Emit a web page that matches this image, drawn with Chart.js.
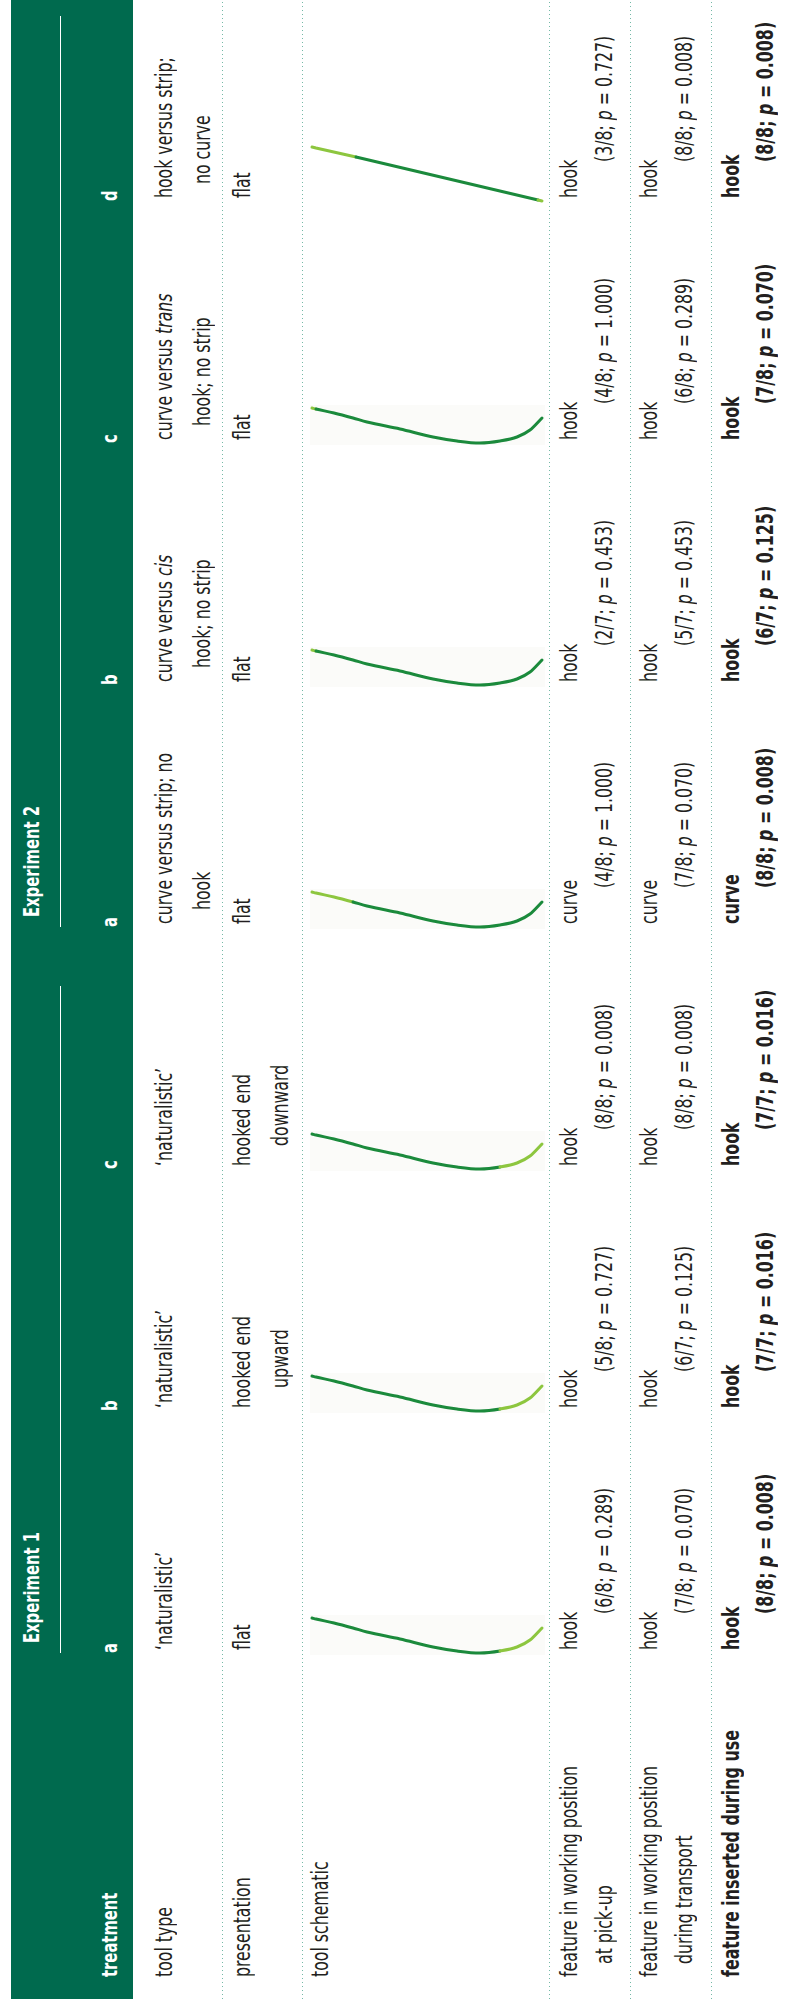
<!DOCTYPE html>
<html>
<head>
<meta charset="utf-8">
<script src="https://cdn.jsdelivr.net/npm/chart.js@4.4.1/dist/chart.umd.min.js"></script>
<style>
  html, body { margin: 0; padding: 0; background: #fff; }
  body { width: 785px; height: 2009px; position: relative; overflow: hidden; }
  /* the table is laid out flat (2009 wide) and turned a quarter left */
  #table {
    position: absolute; left: 0; top: 0;
    width: 2009px; height: 785px;
    transform-origin: 0 0;
    transform: translate(0, 2009px) rotate(-90deg);
    color: #231f20;
  }
  .header { position: absolute; left: 10px; top: 11px; width: 1999px; height: 122px; background: #006a4e; }
  .expline { position: absolute; top: 60px; height: 1px; background: #fff; }
  .rule {
    position: absolute; left: 10px; width: 1999px; height: 1px;
    background-image: linear-gradient(to right, #74b9a7 1.4px, transparent 1.4px);
    background-size: 4px 1px;
  }
  .t { position: absolute; white-space: nowrap; transform-origin: 0 0; }
  canvas.tool { position: absolute; }
</style>
</head>
<body>
<div id="table"></div>
<script>
// ---- table content ----
const experiments = ["Experiment 1", "Experiment 2"]
const experimentCols = [[0, 2], [3, 6]]
const treatments = ["a", "b", "c", "a", "b", "c", "d"]

const rowLabels = [
  ["tool type"],
  ["presentation"],
  ["tool schematic"],
  ["feature in working position", "at pick-up"],
  ["feature in working position", "during transport"],
  ["feature inserted during use"],
]

const toolType = [
  ["\u2018naturalistic\u2019"],
  ["\u2018naturalistic\u2019"],
  ["\u2018naturalistic\u2019"],
  ["curve versus strip; no", "hook"],
  ["curve versus <i>cis</i>", "hook; no strip"],
  ["curve versus <i>trans</i>", "hook; no strip"],
  ["hook versus strip;", "no curve"],
]
const presentation = [["flat"], ["hooked end", "upward"], ["hooked end", "downward"], ["flat"], ["flat"], ["flat"], ["flat"]]

const pickupFeature = ["hook", "hook", "hook", "curve", "hook", "hook", "hook"]
const pickupCount = ["6/8", "5/8", "8/8", "4/8", "2/7", "4/8", "3/8"]
const pickupP = ["0.289", "0.727", "0.008", "1.000", "0.453", "1.000", "0.727"]

const transportFeature = ["hook", "hook", "hook", "curve", "hook", "hook", "hook"]
const transportCount = ["7/8", "6/7", "8/8", "7/8", "5/7", "6/8", "8/8"]
const transportP = ["0.070", "0.125", "0.008", "0.070", "0.453", "0.289", "0.008"]

const useFeature = ["hook", "hook", "hook", "curve", "hook", "hook", "hook"]
const useCount = ["8/8", "7/7", "7/7", "8/8", "6/7", "7/8", "8/8"]
const useP = ["0.008", "0.016", "0.016", "0.008", "0.125", "0.070", "0.008"]

// tool schematics: depth down the cell vs sideways bend (px)
const hookDepth = [0, 4, 22, 41, 55, 88, 121, 145, 168, 188, 205, 218, 230]
const hookBend = [35, 34, 30, 25, 21, 14, 6, 2, 0, 2, 6, 13, 25]
const straightDepth = [0, 4, 44, 226, 230]
const straightBend = [54, 53, 44, 1, 0]
const toolShape = ["hook", "hook", "hook", "hook", "hook", "hook", "straight"]
// stretches of each tool drawn in light green
const tipRanges = [[[188, 230]], [[188, 230]], [[188, 230]], [[0, 41]], [[0, 4]], [[0, 4]], [[0, 44], [226, 230]]]

// ---- layout ----
const FONT = '"Liberation Sans Narrow", "Arial Narrow", "DejaVu Sans Condensed", "Liberation Sans", sans-serif'
const DARK = "#1b8a3c"
const LIGHT = "#8dc63f"
const COL0 = 356
const COLW = 242
const LABEL_U = 32
const colStart = (i) => COL0 + COLW * i

const table = document.getElementById("table")
const mctx = document.createElement("canvas").getContext("2d")

function fitScale(weight, size, sample, target) {
  mctx.font = `${weight} ${size}px ${FONT}`
  return target / mctx.measureText(sample).width
}

function baseOffset(weight, size) {
  mctx.font = `${weight} ${size}px ${FONT}`
  const m = mctx.measureText("Hg")
  const asc = m.fontBoundingBoxAscent
  const desc = m.fontBoundingBoxDescent
  return (size - asc - desc) / 2 + asc
}

const styles = {
  body: { weight: 400, size: 23, color: "#231f20" },
  bold: { weight: 700, size: 23, color: "#231f20" },
  head: { weight: 700, size: 22, color: "#ffffff" },
}
styles.body.k = fitScale(400, 23, "feature in working position", 211)
styles.bold.k = fitScale(700, 23, "feature inserted during use", 247)
styles.head.k = fitScale(700, 22, "Experiment 1", 111)
Object.values(styles).forEach((s) => (s.off = baseOffset(s.weight, s.size)))

function addText(u, baseline, html, style) {
  const el = document.createElement("div")
  el.className = "t"
  el.innerHTML = html
  el.style.font = `${style.weight} ${style.size}px ${FONT}`
  el.style.lineHeight = style.size + "px"
  el.style.color = style.color
  el.style.left = u + "px"
  el.style.top = baseline - style.off + "px"
  el.style.transform = `scaleX(${style.k})`
  table.appendChild(el)
}

function addBox(cls, css) {
  const el = document.createElement("div")
  el.className = cls
  Object.assign(el.style, css)
  table.appendChild(el)
}

// header band
addBox("header", {})
experiments.forEach((name, e) => {
  const [from, to] = experimentCols[e]
  addText(colStart(from) + 10, 39, name, styles.head)
  const end = e === 0 ? colStart(to + 1) - 59 : 1993
  addBox("expline", { left: colStart(from) + "px", width: end - colStart(from) + "px" })
})
addText(LABEL_U, 117, "treatment", styles.head)
treatments.forEach((t, i) => addText(colStart(i), 117, t, styles.head))

// dotted row rules
;[222, 302, 549, 630, 711].forEach((v) => addBox("rule", { top: v + "px" }))

// row labels
const labelBase = [[172], [250], [328], [577, 612], [657, 692], [739]]
rowLabels.forEach((lines, r) => {
  const st = r === 5 ? styles.bold : styles.body
  lines.forEach((line, j) => addText(LABEL_U + (j ? 13 : 0), labelBase[r][j], line, st))
})

// text cells
treatments.forEach((t, i) => {
  const u = colStart(i) + 3
  toolType[i].forEach((line, j) => addText(u + (j ? 14 : 0), j ? 210 : 172, line, styles.body))
  presentation[i].forEach((line, j) => addText(u + (j ? 20 : 0), j ? 288 : 250, line, styles.body))

  const pv = (c, p) => `(${c}; <i>p</i> = ${p})`
  addText(u, 577, pickupFeature[i], styles.body)
  addText(u + 36, 612, pv(pickupCount[i], pickupP[i]), styles.body)
  addText(u, 657, transportFeature[i], styles.body)
  addText(u + 36, 692, pv(transportCount[i], transportP[i]), styles.body)
  addText(u, 739, useFeature[i], styles.bold)
  addText(u + 36, 773, pv(useCount[i], useP[i]), styles.bold)
})

// very faint panel behind the hooked tools
const toolPanel = {
  id: "toolPanel",
  beforeDatasetsDraw(chart, args, opts) {
    if (!opts.show) return
    const { ctx, scales } = chart
    const x0 = scales.x.getPixelForValue(-2)
    const x1 = scales.x.getPixelForValue(233)
    const y0 = scales.y.getPixelForValue(38)
    const y1 = scales.y.getPixelForValue(-2)
    ctx.save()
    ctx.fillStyle = "#fbfbf9"
    ctx.fillRect(x0, y0, x1 - x0, y1 - y0)
    ctx.restore()
  },
}

function drawTool(i) {
  const straight = toolShape[i] === "straight"
  const depth = straight ? straightDepth : hookDepth
  const bend = straight ? straightBend : hookBend
  const canvas = document.createElement("canvas")
  canvas.className = "tool"
  canvas.width = 250
  canvas.height = 70
  canvas.style.left = "302px"
  canvas.style.top = 2009 - colStart(i) - 60 + "px"
  canvas.style.width = "250px"
  canvas.style.height = "70px"
  document.body.appendChild(canvas)

  const inTip = (c) =>
    tipRanges[i].some(([a, b]) => c.p0.parsed.x >= a && c.p1.parsed.x <= b)

  new Chart(canvas, {
    type: "scatter",
    data: {
      datasets: [
        {
          data: depth.map((d, k) => ({ x: d, y: bend[k] })),
          showLine: true,
          borderColor: DARK,
          borderWidth: 3,
          borderCapStyle: "round",
          pointRadius: 0,
          cubicInterpolationMode: straight ? "default" : "monotone",
          tension: 0,
          segment: { borderColor: (c) => (inTip(c) ? LIGHT : DARK) },
        },
      ],
    },
    options: {
      responsive: false,
      animation: false,
      events: [],
      layout: { padding: 0 },
      plugins: {
        legend: { display: false },
        tooltip: { enabled: false },
        toolPanel: { show: !straight },
      },
      scales: {
        x: { type: "linear", display: false, min: -10, max: 240 },
        y: { type: "linear", display: false, min: -10, max: 60 },
      },
    },
    plugins: [toolPanel],
  })
}

treatments.forEach((t, i) => drawTool(i))
</script>
</body>
</html>
